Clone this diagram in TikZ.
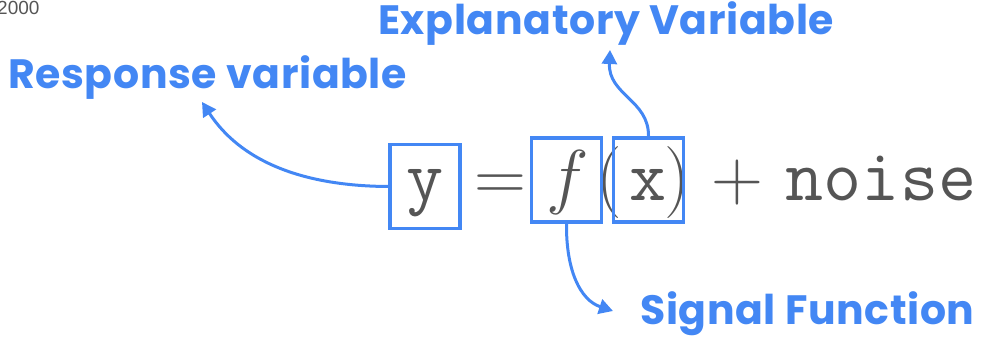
\RequirePackage{fix-cm}
\documentclass[tikz,border=0pt]{standalone}
\usepackage{amsmath,amssymb}
\usepackage{fontspec}
\newfontfamily\labelfont{Poppins}[LetterSpace=1.5]
\newfontfamily\axisfont{Liberation Sans}
\usetikzlibrary{arrows.meta, positioning}
\definecolor{hlblue}{HTML}{4387F4}
\definecolor{eqgray}{HTML}{555555}

\begin{document}
\begin{tikzpicture}[
    x=1pt, y=-1pt,
    hlbox/.style={draw=hlblue, line width=3.5pt, inner sep=0pt, minimum width=70pt, minimum height=84pt},
    glyph/.style={inner sep=0pt, anchor=base, text=eqgray, font=\fontsize{72}{80}\selectfont},
    tag/.style={inner sep=0pt, anchor=base west, text=hlblue, font=\labelfont\bfseries\fontsize{41}{46}\selectfont},
    arrow/.style={-{Triangle[length=14pt, width=15pt]}, line width=3pt, draw=hlblue}
]
\useasboundingbox (0,0) rectangle (981,337);

% --- Equation ---
\node[glyph] (ysym) at (425,200) {$\mathtt{y}$};
\node[glyph] (eq) at (500,200) {$=$};
\node[glyph] (fsym) at (568,200) {$f$};
\node[glyph] (lpar) at (609,200) {$($};
\node[glyph] (xsym) at (648,200) {$\mathtt{x}$};
\node[glyph] (rpar) at (677,200) {$)$};
\node[glyph] (plus) at (737,200) {$+$};
\node[glyph, font=\fontsize{74}{80}\selectfont] (noise) at (881,200) {$\mathtt{noise}$};

% Highlight boxes
\node[hlbox] (ybox) at (425,186.5) {};
\node[hlbox] (fbox) at (566.5,180) {};
\node[hlbox] (xbox) at (648.5,180) {};

% --- Labels ---
\node[tag] (resp) at (8,88) {Response variable};
\node[tag] (expl) at (378,35) {Explanatory Variable};
\node[tag] (sig) at (640,324) {Signal Function};
\node[inner sep=0pt, anchor=base west, text=eqgray, font=\axisfont\fontsize{19}{21}\selectfont] (year) at (-3,15) {2000};

% Tips
\coordinate (resptip) at (202,102);
\coordinate (expltip) at (610,50);
\coordinate (sigtip) at (613,311);

% Arrows
\draw[arrow] (ybox.west) .. controls (300,186) and (240,160) .. (resptip);
\draw[arrow] (xbox.north) .. controls (649,100) and (608,95) .. (expltip);
\draw[arrow] (fbox.south) .. controls (566,270) and (580,300) .. (sigtip);

\end{tikzpicture}
\end{document}
